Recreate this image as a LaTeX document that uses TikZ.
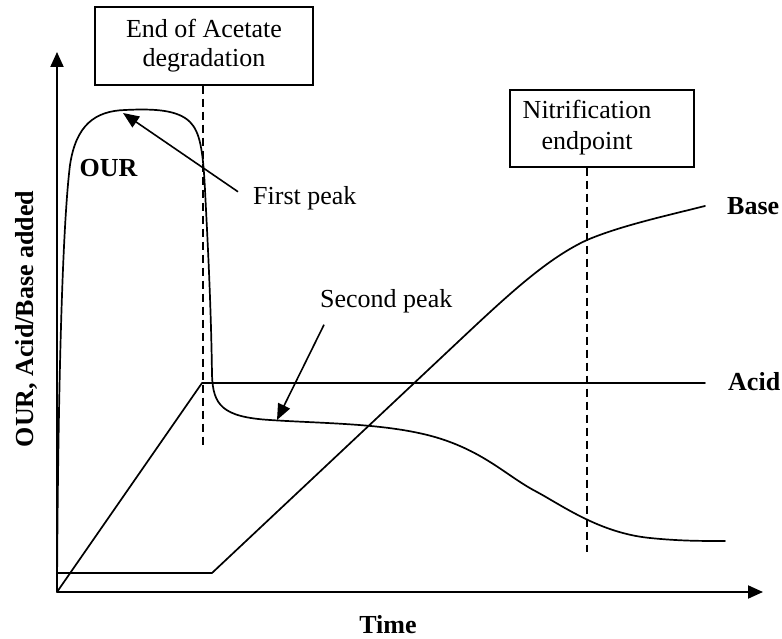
\documentclass[tikz,border=0pt]{standalone}
\usepackage{fontspec}
\setmainfont{Liberation Serif}
\usetikzlibrary{arrows.meta}

\begin{document}
\begin{tikzpicture}[x=1pt, y=-1pt,
  txt/.style={font=\fontsize{26}{29}\selectfont, inner sep=0pt},
  boldtxt/.style={font=\fontsize{26}{29}\selectfont\bfseries, inner sep=0pt},
  labelbox/.style={draw, line width=1.4pt, inner sep=0pt, align=center,
                   font=\fontsize{26}{29}\selectfont},
  axis/.style={line width=2pt, -{Triangle[length=15pt, width=13pt]}},
  curve/.style={line width=1.7pt, line join=round, line cap=round},
  marker/.style={line width=1.5pt, dash pattern=on 8pt off 5pt},
  callout/.style={line width=1.6pt, -{Triangle[length=16pt, width=13pt]}}]

\useasboundingbox (0,0) rectangle (782,639);

% axes
\coordinate (origin) at (57,592);
\coordinate (ytop) at (57,52);
\coordinate (xend) at (763,592);
\draw[axis] (origin) -- (ytop);
\draw[axis] (origin) -- (xend);
\node[boldtxt, anchor=base] (xlabel) at (388,633) {Time};
\node[boldtxt, anchor=base, rotate=90] (ylabel) at (33,319) {OUR, Acid/Base added};

% event boxes with their markers
\node[labelbox, minimum width=218pt, minimum height=78pt] (acetatebox) at (204,46)
  {End of Acetate\\degradation};
\coordinate (acetateend) at (203,447);
\draw[marker] (acetatebox.south -| acetateend) -- (acetateend);

\node[labelbox, minimum width=184pt, minimum height=77pt] (nitbox) at (602,128.5) {};
\node[txt, align=center, font=\fontsize{26}{31}\selectfont] (nittext) at (587,128)
  {Nitrification\\endpoint};
\coordinate (nitend) at (587,552);
\draw[marker] (nitbox.south -| nitend) -- (nitend);

% acid added
\coordinate (acidknee) at (202,383);
\node[boldtxt, anchor=base west] (acid) at (728,390) {Acid};
\draw[curve] (origin) -- (acidknee) -- (705,383);

% base added
\node[boldtxt, anchor=base west] (base) at (727,215) {Base};
\draw[curve] (57,573) -- (212,573) -- (460,340)
  .. controls (510,293) and (548,258) .. (587,240)
  .. controls (620,226) and (665,216) .. (705,206);

% oxygen uptake rate
\node[boldtxt, anchor=base] (our) at (108.5,177) {OUR};
\draw[curve] (origin)
  .. controls (58,400) and (62,230) .. (70,165)
  .. controls (76,125) and (95,111) .. (125,110)
  .. controls (155,108.5) and (178,110) .. (190,122)
  .. controls (200,132) and (203,150) .. (205,190)
  .. controls (207,230) and (211,300) .. (212,375)
  .. controls (213,405) and (222,417) .. (270,420)
  .. controls (330,424) and (400,423) .. (450,442)
  .. controls (490,457) and (510,478) .. (537,492)
  .. controls (563,506) and (600,533) .. (650,538)
  .. controls (680,541) and (700,541) .. (725,541);

% peak call-outs
\coordinate (peakone) at (123,113);
\coordinate (peaktwo) at (277,420);
\node[txt, anchor=base west] (firstpeak) at (253,205) {First peak};
\node[txt, anchor=base west] (secondpeak) at (320,307) {Second peak};
\draw[callout] ([shift={(-15,-7)}]firstpeak.west) -- (peakone);
\draw[callout] ([shift={(4,12)}]secondpeak.south west) -- (peaktwo);

\end{tikzpicture}
\end{document}
